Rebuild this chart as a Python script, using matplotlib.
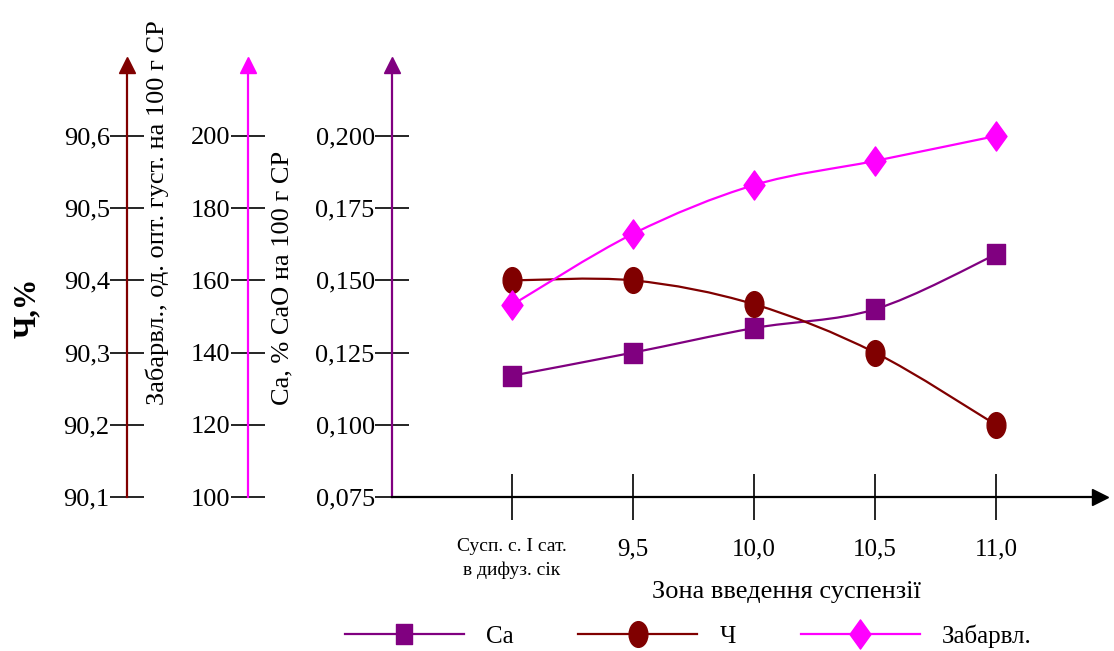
import numpy as np
import matplotlib
matplotlib.use("Agg")
import matplotlib.pyplot as plt
from matplotlib.path import Path
from matplotlib.patches import PathPatch
from matplotlib.lines import Line2D
from matplotlib.transforms import Affine2D

plt.rcParams['font.family'] = ['Liberation Serif', 'DejaVu Serif']

# data
categories = ["Сусп. с. I сат.\nв дифуз. сік", "9,5", "10,0", "10,5", "11,0"]
ca = [0.117, 0.125, 0.1335, 0.140, 0.159]
ch = [90.40, 90.40, 90.367, 90.30, 90.20]
zab = [153.2, 172.9, 186.4, 193.1, 200.0]

ca_ticks = [0.075, 0.100, 0.125, 0.150, 0.175, 0.200]
ca_labels = ["0,075", "0,100", "0,125", "0,150", "0,175", "0,200"]
ch_ticks = [90.1, 90.2, 90.3, 90.4, 90.5, 90.6]
ch_labels = ["90,1", "90,2", "90,3", "90,4", "90,5", "90,6"]
zab_ticks = [100, 120, 140, 160, 180, 200]
zab_labels = ["100", "120", "140", "160", "180", "200"]

C_CA = "#800080"
C_CH = "#800000"
C_ZAB = "#ff00ff"

# slightly tall markers, as in the original picture
sq_marker = Path([(-0.85, -1), (0.85, -1), (0.85, 1), (-0.85, 1), (-0.85, -1)],
                 [Path.MOVETO, Path.LINETO, Path.LINETO, Path.LINETO, Path.CLOSEPOLY])
circ_marker = Affine2D().scale(0.73, 1).transform_path(Path.unit_circle())
dia_marker = Path([(0, -1), (0.72, 0), (0, 1), (-0.72, 0), (0, -1)],
                  [Path.MOVETO, Path.LINETO, Path.LINETO, Path.LINETO, Path.CLOSEPOLY])


def smooth_path(xs, ys):
    # Catmull-Rom style bezier, like the spreadsheet "smoothed line"
    pts = np.column_stack([xs, ys]).astype(float)
    n = len(pts)
    verts = [pts[0]]
    codes = [Path.MOVETO]
    for i in range(n - 1):
        p0 = pts[max(i - 1, 0)]
        p1 = pts[i]
        p2 = pts[i + 1]
        p3 = pts[min(i + 2, n - 1)]
        c1 = p1 + (p2 - p0) / 6
        c2 = p2 - (p3 - p1) / 6
        verts += [c1, c2, p2]
        codes += [Path.CURVE4] * 3
    return Path(verts, codes)


W, H = 1114, 651
fig = plt.figure(figsize=(W / 100, H / 100), dpi=100)
left, right, bottom, top = 392, 1100, 497, 65
ax = fig.add_axes([left / W, 1 - bottom / H, (right - left) / W, (bottom - top) / H])
axw = right - left

x = np.arange(len(categories))
ax.set_xlim(-120 / 121, (right - 512) / 121)
ax.set_ylim(0.075, 0.075 + (bottom - top) / 72.2 * 0.025)

ax_ch = ax.twinx()
ax_ch.set_ylim(90.1, 90.1 + (bottom - top) / 72.2 * 0.1)
ax_zab = ax.twinx()
ax_zab.set_ylim(100, 100 + (bottom - top) / 72.2 * 20)

for a, col, pos in [(ax_ch, C_CH, -265 / axw), (ax_zab, C_ZAB, -144 / axw)]:
    for s in ["top", "right", "bottom"]:
        a.spines[s].set_visible(False)
    a.yaxis.set_ticks_position("left")
    a.spines["left"].set_visible(True)
    a.spines["left"].set_position(("axes", pos))
    a.spines["left"].set_color(col)
    a.spines["left"].set_linewidth(1.6)
    a.patch.set_visible(False)
    a.plot([pos], [1], marker="^", color=col, markersize=11, transform=a.transAxes, clip_on=False)

for s in ["top", "right"]:
    ax.spines[s].set_visible(False)
ax.spines["left"].set_color(C_CA)
ax.spines["left"].set_linewidth(1.6)
ax.spines["bottom"].set_linewidth(1.6)
ax.plot([0], [1], marker="^", color=C_CA, markersize=11, transform=ax.transAxes, clip_on=False)
ax.plot([1], [0], marker=">", color="black", markersize=11, transform=ax.transAxes, clip_on=False)

ax.set_yticks(ca_ticks, ca_labels)
ax_ch.set_yticks(ch_ticks, ch_labels)
ax_zab.set_yticks(zab_ticks, zab_labels)
for a in [ax, ax_ch, ax_zab]:
    a.tick_params(axis="y", direction="inout", length=25, width=1.2, color="black",
                  labelsize=19, pad=0)

ax.set_xticks(x, categories)
ax.tick_params(axis="x", direction="inout", length=33, width=1.2, labelsize=18, pad=13)
first = ax.get_xticklabels()[0]
first.set_fontsize(14)
first.set_linespacing(1.5)

# smoothed lines + markers
series = [(ax, ca, C_CA, sq_marker, 15),
          (ax_ch, ch, C_CH, circ_marker, 18.5),
          (ax_zab, zab, C_ZAB, dia_marker, 21)]
for a, vals, col, mk, ms in series:
    a.add_patch(PathPatch(smooth_path(x, vals), fill=False, edgecolor=col, lw=1.6))
    a.plot(x, vals, linestyle="none", marker=mk, markersize=ms, color=col)

fig.text(28 / W, 1 - 308 / H, "Ч,%", rotation=90, ha="center", va="center",
         fontsize=22, fontweight="bold")
fig.text(157 / W, 1 - 405 / H, "Забарвл., од. опт. густ. на 100 г СР", rotation=90,
         ha="center", va="bottom", fontsize=19)
fig.text(282 / W, 1 - 405 / H, "Са, % СаО на 100 г СР", rotation=90,
         ha="center", va="bottom", fontsize=19)
fig.text(786 / W, 1 - 592 / H, "Зона введення суспензії", ha="center", va="center",
         fontsize=19)

handles = [Line2D([], [], color=C_CA, marker=sq_marker, markersize=14, lw=1.6),
           Line2D([], [], color=C_CH, marker=circ_marker, markersize=18.5, lw=1.6),
           Line2D([], [], color=C_ZAB, marker=dia_marker, markersize=21, lw=1.6)]
fig.legend(handles, ["Ca", "Ч", "Забарвл."], loc="center", bbox_to_anchor=(688 / W, 1 - 636 / H),
           ncol=3, frameon=False, fontsize=18, handlelength=4.76, handletextpad=0.88,
           columnspacing=2.6, borderpad=0, borderaxespad=0)

fig.savefig("out.png", dpi=100)
